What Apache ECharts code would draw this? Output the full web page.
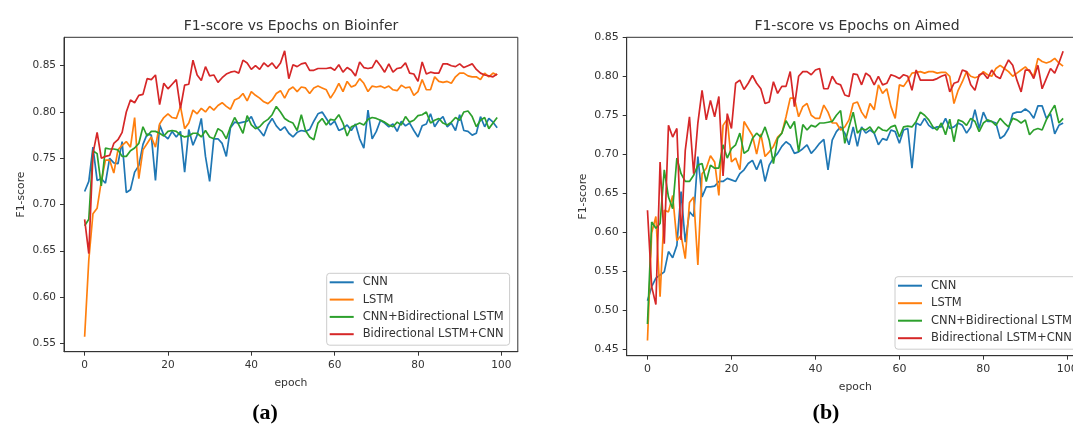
<!DOCTYPE html>
<html><head><meta charset="utf-8">
<script src="https://cdn.jsdelivr.net/npm/echarts@6/dist/echarts.min.js"></script>
<style>html,body{margin:0;padding:0;background:#fff}#c{width:1073px;height:432px}</style>
</head><body><div id="c"></div>
<script>
const seriesNames = ['CNN', 'LSTM', 'CNN+Bidirectional LSTM', 'Bidirectional LSTM+CNN'];
const colors = ['#1f77b4', '#ff7f0e', '#2ca02c', '#d62728'];
const xTicks = [0, 20, 40, 60, 80, 100];
const yTicksBio = [0.55, 0.60, 0.65, 0.70, 0.75, 0.80, 0.85];
const yTicksAim = [0.45, 0.50, 0.55, 0.60, 0.65, 0.70, 0.75, 0.80, 0.85];

// Bioinfer (a)
const bioCNN = [0.714,0.725,0.762,0.726,0.728,0.723,0.750,0.745,0.744,0.768,
0.713,0.716,0.735,0.742,0.765,0.776,0.775,0.726,0.786,0.775,
0.771,0.779,0.773,0.779,0.735,0.781,0.764,0.775,0.793,0.752,
0.725,0.771,0.771,0.766,0.752,0.783,0.789,0.788,0.789,0.790,
0.795,0.785,0.780,0.774,0.786,0.793,0.785,0.780,0.784,0.777,
0.773,0.778,0.780,0.779,0.781,0.790,0.798,0.800,0.793,0.786,
0.790,0.780,0.782,0.786,0.780,0.787,0.771,0.761,0.802,0.771,
0.779,0.791,0.788,0.784,0.787,0.779,0.790,0.785,0.788,0.780,
0.773,0.785,0.787,0.798,0.784,0.791,0.795,0.784,0.788,0.780,
0.797,0.780,0.779,0.775,0.777,0.795,0.784,0.793,0.789,0.783];
const bioLSTM = [0.557,0.640,0.690,0.696,0.725,0.748,0.748,0.734,0.759,0.764,
0.768,0.762,0.794,0.728,0.759,0.766,0.773,0.762,0.787,0.794,
0.798,0.794,0.793,0.806,0.782,0.788,0.802,0.798,0.804,0.800,
0.806,0.802,0.807,0.810,0.806,0.803,0.813,0.815,0.820,0.812,
0.822,0.818,0.815,0.811,0.809,0.813,0.820,0.823,0.815,0.824,
0.827,0.822,0.827,0.826,0.820,0.826,0.828,0.826,0.824,0.815,
0.822,0.831,0.822,0.833,0.827,0.829,0.836,0.831,0.822,0.828,
0.827,0.828,0.826,0.828,0.824,0.823,0.829,0.826,0.827,0.818,
0.822,0.835,0.824,0.824,0.838,0.833,0.832,0.833,0.831,0.838,
0.842,0.842,0.839,0.838,0.838,0.835,0.842,0.838,0.842,0.840];
const bioCNNBiLSTM = [0.677,0.684,0.758,0.755,0.720,0.761,0.760,0.760,0.759,0.752,
0.752,0.758,0.761,0.766,0.784,0.774,0.779,0.779,0.777,0.774,
0.779,0.780,0.779,0.775,0.773,0.774,0.777,0.777,0.773,0.780,
0.773,0.771,0.782,0.779,0.771,0.784,0.794,0.786,0.777,0.796,
0.786,0.782,0.784,0.789,0.792,0.797,0.806,0.800,0.793,0.790,
0.788,0.780,0.797,0.780,0.773,0.770,0.788,0.793,0.786,0.792,
0.791,0.797,0.788,0.774,0.784,0.786,0.788,0.786,0.792,0.794,
0.793,0.791,0.789,0.786,0.784,0.789,0.786,0.795,0.789,0.791,
0.796,0.797,0.800,0.788,0.791,0.793,0.788,0.786,0.789,0.794,
0.791,0.800,0.801,0.795,0.784,0.791,0.794,0.782,0.788,0.794];
const bioBiLSTMCNN = [0.684,0.647,0.755,0.778,0.750,0.752,0.753,0.766,0.770,0.778,
0.800,0.813,0.810,0.818,0.819,0.836,0.835,0.840,0.808,0.831,
0.825,0.830,0.835,0.804,0.829,0.830,0.856,0.840,0.834,0.849,
0.839,0.840,0.832,0.837,0.841,0.843,0.844,0.842,0.856,0.853,
0.846,0.850,0.846,0.853,0.849,0.853,0.847,0.853,0.866,0.836,
0.851,0.849,0.852,0.853,0.845,0.845,0.847,0.847,0.847,0.848,
0.845,0.851,0.843,0.848,0.845,0.839,0.854,0.848,0.847,0.848,
0.856,0.850,0.843,0.852,0.843,0.847,0.848,0.853,0.842,0.841,
0.833,0.854,0.841,0.843,0.842,0.842,0.852,0.852,0.850,0.849,
0.852,0.848,0.850,0.852,0.846,0.842,0.840,0.839,0.838,0.841];

// Aimed (b)
const aimCNN = [0.512,0.530,0.541,0.545,0.549,0.575,0.567,0.583,0.652,0.587,
0.626,0.620,0.697,0.645,0.658,0.658,0.659,0.665,0.665,0.669,
0.667,0.665,0.675,0.680,0.688,0.692,0.680,0.693,0.665,0.686,
0.695,0.701,0.710,0.716,0.712,0.701,0.703,0.707,0.712,0.701,
0.707,0.714,0.719,0.680,0.718,0.729,0.735,0.727,0.712,0.735,
0.710,0.735,0.727,0.731,0.727,0.712,0.720,0.718,0.731,0.729,
0.714,0.731,0.733,0.682,0.740,0.737,0.746,0.737,0.733,0.735,
0.735,0.746,0.733,0.735,0.740,0.737,0.727,0.735,0.757,0.733,
0.754,0.742,0.742,0.740,0.720,0.724,0.733,0.752,0.754,0.754,
0.758,0.754,0.746,0.762,0.762,0.746,0.752,0.726,0.737,0.740];
const aimLSTM = [0.461,0.599,0.620,0.517,0.628,0.626,0.647,0.589,0.596,0.566,
0.638,0.645,0.558,0.675,0.682,0.698,0.690,0.647,0.737,0.745,
0.690,0.695,0.680,0.742,0.733,0.724,0.700,0.726,0.697,0.703,
0.710,0.722,0.727,0.748,0.772,0.772,0.748,0.761,0.765,0.750,
0.746,0.746,0.763,0.754,0.740,0.740,0.731,0.735,0.744,0.765,
0.767,0.754,0.746,0.765,0.757,0.789,0.778,0.784,0.761,0.746,
0.789,0.787,0.795,0.804,0.805,0.806,0.804,0.806,0.806,0.804,
0.805,0.805,0.800,0.765,0.782,0.793,0.806,0.800,0.798,0.800,
0.806,0.802,0.800,0.810,0.814,0.810,0.806,0.800,0.804,0.808,
0.812,0.806,0.800,0.823,0.819,0.817,0.819,0.823,0.817,0.813];
const aimCNNBiLSTM = [0.482,0.613,0.605,0.611,0.680,0.645,0.630,0.695,0.675,0.665,
0.665,0.673,0.686,0.688,0.665,0.686,0.682,0.682,0.712,0.695,
0.707,0.712,0.727,0.701,0.705,0.720,0.727,0.722,0.735,0.718,
0.688,0.720,0.727,0.743,0.733,0.742,0.703,0.738,0.731,0.737,
0.735,0.740,0.740,0.741,0.742,0.750,0.756,0.714,0.735,0.754,
0.727,0.733,0.731,0.735,0.727,0.735,0.731,0.730,0.735,0.737,
0.722,0.735,0.736,0.735,0.742,0.754,0.750,0.744,0.735,0.731,
0.740,0.725,0.745,0.716,0.744,0.742,0.737,0.746,0.742,0.729,
0.740,0.744,0.742,0.737,0.746,0.740,0.735,0.746,0.744,0.740,
0.744,0.725,0.731,0.733,0.731,0.744,0.754,0.763,0.740,0.746];
const aimBiLSTMCNN = [0.628,0.530,0.507,0.690,0.585,0.737,0.722,0.733,0.590,0.705,
0.748,0.675,0.740,0.782,0.744,0.769,0.748,0.774,0.672,0.752,
0.733,0.791,0.795,0.783,0.791,0.801,0.791,0.784,0.765,0.767,
0.793,0.778,0.787,0.787,0.806,0.761,0.800,0.806,0.806,0.802,
0.808,0.810,0.784,0.784,0.800,0.791,0.789,0.776,0.774,0.803,
0.802,0.789,0.804,0.800,0.789,0.800,0.789,0.791,0.802,0.800,
0.797,0.802,0.800,0.782,0.808,0.795,0.795,0.795,0.795,0.797,
0.800,0.802,0.780,0.791,0.793,0.808,0.806,0.789,0.782,0.802,
0.804,0.797,0.808,0.800,0.797,0.810,0.821,0.814,0.795,0.780,
0.808,0.808,0.797,0.814,0.784,0.797,0.810,0.804,0.817,0.832];

const FONT = 'DejaVu Sans';
const TXT = '#333';
const bioData = [bioCNN, bioLSTM, bioCNNBiLSTM, bioBiLSTMCNN];
const aimData = [aimCNN, aimLSTM, aimCNNBiLSTM, aimBiLSTMCNN];

function xAx(gi, fs) {
  return {
    type: 'value', gridIndex: gi, min: -4.95, max: 103.95,
    name: 'epoch', nameLocation: 'middle', nameGap: 25.5,
    nameTextStyle: {fontFamily: FONT, fontSize: 10.8, color: TXT},
    axisLine: {show: true, onZero: false, lineStyle: {color: '#333', width: 1}},
    axisTick: {show: true, length: 4, customValues: xTicks, lineStyle: {color: '#333'}},
    axisLabel: {customValues: xTicks, margin: 8, fontFamily: FONT, fontSize: fs, color: TXT},
    splitLine: {show: false}
  };
}
function yAx(gi, mn, mx, ticks, fs, gap) {
  return {
    type: 'value', gridIndex: gi, min: mn, max: mx,
    name: 'F1-score', nameLocation: 'middle', nameGap: gap, nameRotate: 90,
    nameTextStyle: {fontFamily: FONT, fontSize: 10.8, color: TXT},
    axisLine: {show: true, onZero: false, lineStyle: {color: '#333', width: 1}},
    axisTick: {show: true, length: 4, customValues: ticks, lineStyle: {color: '#333'}},
    axisLabel: {customValues: ticks, margin: 8, fontFamily: FONT, fontSize: fs, color: TXT,
      formatter: v => Number(v).toFixed(2)},
    splitLine: {show: false}
  };
}
function legendCfg(left, top, gap) {
  return {
    orient: 'vertical', left: left, top: top, padding: [2, 6, 4, 3],
    itemWidth: 24, itemHeight: 2, itemGap: gap, icon: 'rect',
    textStyle: {fontFamily: FONT, fontSize: 11.5, lineHeight: 14, color: TXT, padding: [0, 0, 0, 4]},
    backgroundColor: '#fff', borderColor: '#ccc', borderWidth: 1, borderRadius: 3,
    data: seriesNames
  };
}
const series = [];
[bioData, aimData].forEach((set, gi) => {
  set.forEach((arr, k) => {
    series.push({
      name: seriesNames[k], type: 'line', xAxisIndex: gi, yAxisIndex: gi,
      data: arr.map((v, i) => [i, v]), showSymbol: false, symbol: 'none',
      lineStyle: {color: colors[k], width: 1.7}, itemStyle: {color: colors[k]},
      animation: false, z: 2 + k
    });
  });
});

const chart = echarts.init(document.getElementById('c'), null, {renderer: 'canvas'});
chart.setOption({
  backgroundColor: '#fff',
  animation: false,
  grid: [
    {left: 64, top: 37.3, width: 453.8, height: 314.4, show: true, borderColor: '#333', borderWidth: 1,
     backgroundColor: 'transparent', outerBoundsMode: 'none', containLabel: false},
    {left: 626.7, top: 37.3, width: 457.2, height: 318.4, show: true, borderColor: '#333', borderWidth: 1,
     backgroundColor: 'transparent', outerBoundsMode: 'none', containLabel: false}
  ],
  xAxis: [xAx(0, 10.5), xAx(1, 11)],
  yAxis: [yAx(0, 0.5409, 0.8807, yTicksBio, 10.5, 37.5), yAx(1, 0.4414, 0.8500, yTicksAim, 11, 38)],
  legend: [legendCfg(326.7, 273.3, 3.3), legendCfg(895, 276.7, 3.5)],
  graphic: [
    {type: 'text', x: 291, y: 26, style: {text: 'F1-score vs Epochs on Bioinfer', font: '14px "DejaVu Sans"', fill: TXT, textAlign: 'center', textVerticalAlign: 'middle'}},
    {type: 'text', x: 857, y: 26, style: {text: 'F1-score vs Epochs on Aimed', font: '14px "DejaVu Sans"', fill: TXT, textAlign: 'center', textVerticalAlign: 'middle'}},
    {type: 'text', x: 265, y: 413, style: {text: '(a)', font: 'bold 22px "Liberation Serif"', fill: '#000', textAlign: 'center', textVerticalAlign: 'middle'}},
    {type: 'text', x: 826, y: 413, style: {text: '(b)', font: 'bold 22px "Liberation Serif"', fill: '#000', textAlign: 'center', textVerticalAlign: 'middle'}}
  ],
  series: series
});
</script></body></html>
